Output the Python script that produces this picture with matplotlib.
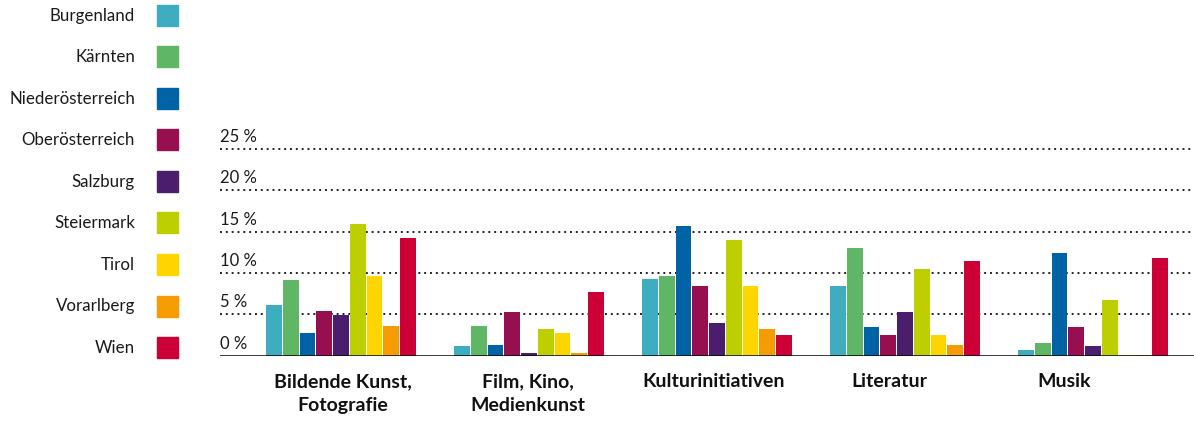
import numpy as np
import matplotlib.pyplot as plt
from matplotlib.patches import Rectangle

plt.rcParams['font.family'] = ['Lato', 'DejaVu Sans']

# Data (share in %)
categories = ['Bildende Kunst,\nFotografie', 'Film, Kino,\nMedienkunst',
              'Kulturinitiativen', 'Literatur', 'Musik']
regions = ['Burgenland', 'Kärnten', 'Niederösterreich', 'Oberösterreich',
           'Salzburg', 'Steiermark', 'Tirol', 'Vorarlberg', 'Wien']
burgenland = [6.1, 1.2, 9.3, 8.4, 0.7]
kaernten = [9.2, 3.6, 9.6, 13.0, 1.5]
niederoesterreich = [2.7, 1.3, 15.7, 3.5, 12.4]
oberoesterreich = [5.4, 5.3, 8.4, 2.5, 3.5]
salzburg = [4.9, 0.3, 4.0, 5.3, 1.2]
steiermark = [15.9, 3.2, 14.0, 10.5, 6.7]
tirol = [9.6, 2.7, 8.4, 2.5, 0.1]
vorarlberg = [3.6, 0.3, 3.2, 1.3, 0.1]
wien = [14.2, 7.7, 2.5, 11.5, 11.8]
yticks = [0, 5, 10, 15, 20, 25]

series = [burgenland, kaernten, niederoesterreich, oberoesterreich,
          salzburg, steiermark, tirol, vorarlberg, wien]
colors = ['#3DADBF', '#5FB765', '#0063A5', '#961050', '#4A1D6D',
          '#BDCF00', '#FFD500', '#F59D00', '#CC0037']

W, H = 1194, 423
fig = plt.figure(figsize=(W / 100, H / 100), dpi=100)

# axes placed in pixel terms: x 220..1194, y 0 at 355.7, 1 % = 8.27 px
ax_left, ax_right = 220, 1194
y0, px_per_pct = 355.7, 8.27
ymax = 26
ax = fig.add_axes([ax_left / W, 1 - y0 / H, (ax_right - ax_left) / W,
                   ymax * px_per_pct / H])

step = 188.0  # px between group centers
first_center = 341.0
ax.set_xlim((ax_left - first_center) / step, (ax_right - first_center) / step)
ax.set_ylim(0, ymax)

x = np.arange(len(categories))
bw = 16.7 / step
for k, (vals, c) in enumerate(zip(series, colors)):
    ax.bar(x + (k - 4) * bw, vals, width=bw * 0.94, color=c, zorder=3,
           linewidth=0)

# dotted grid lines with labels sitting on them
for t in yticks:
    if t > 0:
        ax.axhline(t, color='#222222', lw=1.4, ls=(0, (1, 2)), zorder=1)
    ax.text(0.0, t + 0.5, f'{t} %', transform=ax.get_yaxis_transform(),
            ha='left', va='bottom', fontsize=12, color='#1a1a1a')
ax.axhline(0, color='black', lw=1.8, zorder=4)

# category labels below the axis
label_x = [0.01, 0.995, 1.98, 2.915, 3.846]
for lx, cat in zip(label_x, categories):
    ax.text(lx, -2.1, cat, ha='center', va='top', fontsize=14,
            fontweight='bold', color='#111111', linespacing=1.5)

ax.set_xticks([])
ax.set_yticks([])
for s in ax.spines.values():
    s.set_visible(False)

# legend on the left
for i, (name, c) in enumerate(zip(regions, colors)):
    yc = 15.5 + i * 41.5
    fig.text(135 / W, 1 - yc / H, name, ha='right', va='center',
             fontsize=12.2, color='#1a1a1a')
    fig.patches.append(Rectangle((157 / W, 1 - (yc + 10.5) / H), 21 / W, 21 / H,
                                 transform=fig.transFigure, color=c,
                                 figure=fig))

fig.savefig('out.png', dpi=100)
